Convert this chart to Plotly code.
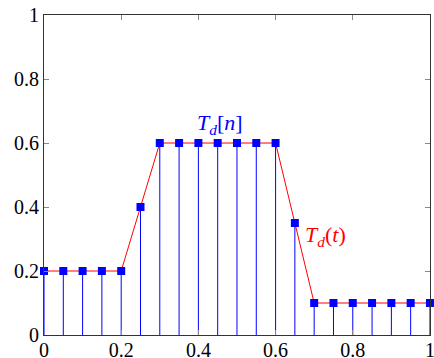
import plotly.graph_objects as go

x_vals = [0, 0.05, 0.1, 0.15, 0.2, 0.25, 0.3, 0.35, 0.4, 0.45, 0.5, 0.55, 0.6, 0.65, 0.7, 0.75, 0.8, 0.85, 0.9, 0.95, 1.0]
y_vals = [0.2, 0.2, 0.2, 0.2, 0.2, 0.4, 0.6, 0.6, 0.6, 0.6, 0.6, 0.6, 0.6, 0.35, 0.1, 0.1, 0.1, 0.1, 0.1, 0.1, 0.1]
tick_vals = [0, 0.2, 0.4, 0.6, 0.8, 1]
tick_text = ["0", "0.2", "0.4", "0.6", "0.8", "1"]

font_family = "Liberation Serif"

fig = go.Figure()
fig.add_trace(go.Scatter(
    x=x_vals, y=y_vals, mode="lines",
    line=dict(color="red", width=1), cliponaxis=False, showlegend=False))
fig.add_trace(go.Scatter(
    x=x_vals, y=y_vals, mode="markers",
    marker=dict(symbol="square", size=8, color="blue", line=dict(width=0)),
    error_y=dict(type="data", symmetric=False, array=[0] * len(y_vals),
                 arrayminus=y_vals, width=0, color="blue", thickness=1),
    cliponaxis=False, showlegend=False))

fig.add_annotation(x=0.457, y=0.66, text="<i>T<sub>d</sub></i>[<i>n</i>]",
                   showarrow=False, font=dict(color="blue", size=22, family=font_family))
fig.add_annotation(x=0.672, y=0.31, text="<i>T<sub>d</sub></i>(<i>t</i>)", xanchor="left",
                   showarrow=False, font=dict(color="red", size=22, family=font_family))

axis_common = dict(showgrid=False, zeroline=False, showline=True, linecolor="#333333",
                   linewidth=1, mirror="ticks", ticks="inside", ticklen=5, tickcolor="#888888",
                   tickvals=tick_vals, ticktext=tick_text, ticklabeloverflow="allow",
                   automargin=False,
                   tickfont=dict(size=20, color="black", family=font_family))
fig.update_xaxes(range=[0, 1.0001], ticklabelstandoff=-3, **axis_common)
fig.update_yaxes(range=[0, 1.0001], **axis_common)

fig.update_layout(width=434, height=358, margin=dict(l=44, r=4, t=15, b=23),
                  plot_bgcolor="white", paper_bgcolor="white",
                  font=dict(family=font_family))

fig.write_html("out.html", config={"displayModeBar": False},
               post_script="document.body.style.margin='0';document.body.style.padding='0';document.body.style.overflow='hidden';")
